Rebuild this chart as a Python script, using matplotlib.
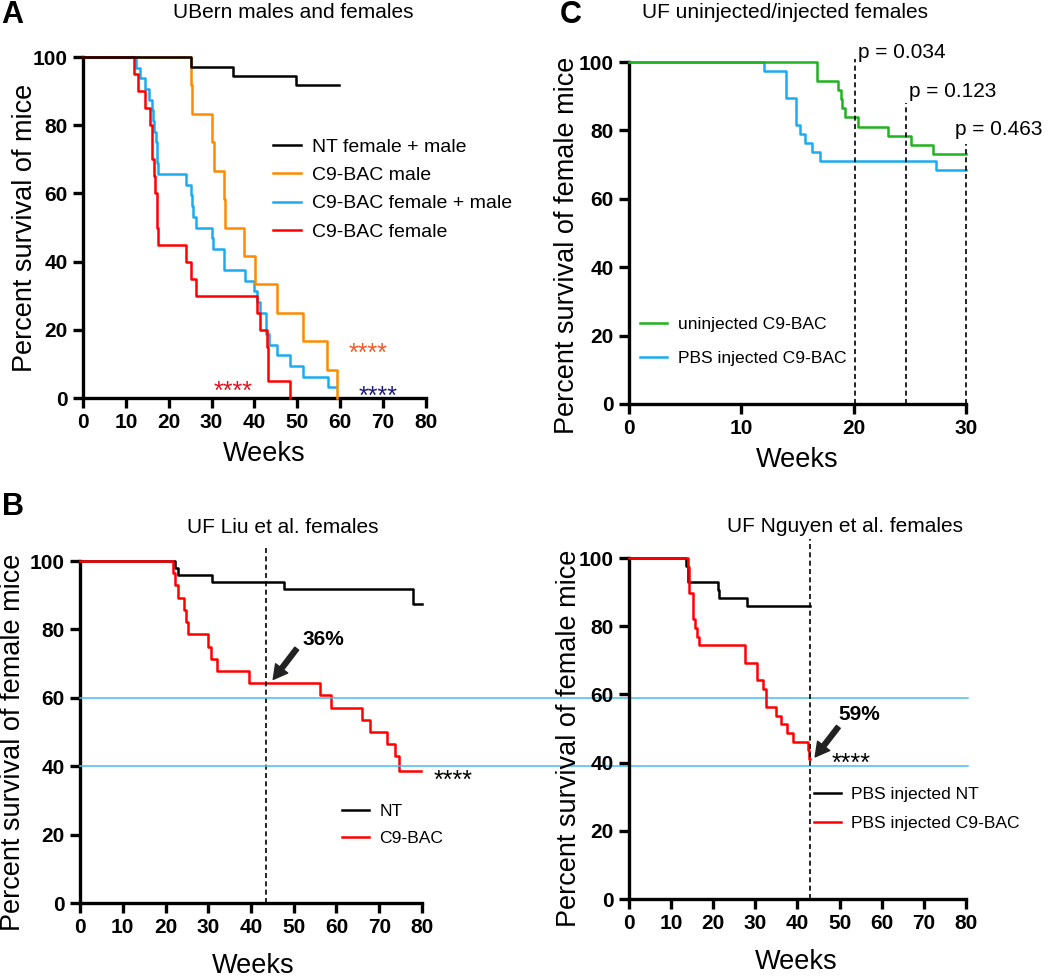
import matplotlib
matplotlib.use('Agg')
import matplotlib.pyplot as plt

plt.rcParams['font.family'] = ['Liberation Sans', 'DejaVu Sans']

# ---- panel A: UBern males and females ----
nt_a_t = [0, 25.1, 35.0, 49.8, 59.8]
nt_a_s = [100, 97.2, 94.4, 91.7, 91.7]
male_t = [0, 25.1, 25.4, 30.2, 30.5, 32.9, 33.2, 37.6, 40.1, 45.2, 51.4, 56.8, 59.3]
male_s = [100, 91.7, 83.3, 75.0, 66.7, 58.3, 50.0, 41.7, 33.3, 25.0, 16.7, 8.3, 0]
both_t = [0, 12.4, 13.4, 14.5, 15.5, 16.0, 16.3, 16.5, 17.0, 17.2, 17.3, 17.4, 24.0, 25.1,
          25.4, 25.6, 26.4, 30.2, 30.3, 32.9, 33.0, 37.8, 39.9, 40.7, 41.3, 42.6, 42.8,
          43.5, 45.2, 48.3, 51.4, 57.1, 59.0]
both_s = [100, 96.9, 93.8, 90.6, 87.5, 84.4, 81.3, 78.1, 75.0, 71.9, 68.8, 65.6, 62.5, 59.4,
          56.3, 53.1, 50.0, 46.9, 43.8, 40.6, 37.5, 34.4, 31.3, 28.1, 25.0, 21.9, 18.8,
          15.6, 12.5, 9.4, 6.3, 3.1, 3.1]
fem_t = [0, 11.9, 12.9, 14.5, 15.6, 16.0, 16.2, 16.5, 16.8, 17.2, 17.3, 17.4, 24.0, 25.3,
         26.4, 40.5, 41.3, 43.0, 43.1, 43.2, 48.3]
fem_s = [100, 95, 90, 85, 80, 75, 70, 65, 60, 55, 50, 45, 40, 35, 30, 25, 20, 15, 10, 5, 0]

# ---- panel C: UF uninjected / injected females ----
unin_t = [0, 16.7, 18.65, 18.9, 18.95, 19.25, 20.4, 23.1, 25.1, 27.1, 30]
unin_s = [100, 94.6, 91.9, 89.2, 86.5, 83.8, 81.1, 78.4, 75.7, 73.0, 73.0]
pbs_t = [0, 12.0, 14.0, 14.9, 15.2, 15.7, 16.3, 17.0, 27.3, 30]
pbs_s = [100, 97.4, 89.5, 81.6, 78.9, 76.3, 73.7, 71.1, 68.4, 68.4]
p_weeks = [20.1, 24.7, 30.0]
p_tops = [101, 88, 76]
p_labels = ['p = 0.034', 'p = 0.123', 'p = 0.463']
p_text_x = [20.4, 24.9, 29.0]
p_text_y = [102.8, 91.5, 80.3]

# ---- panel B left: UF Liu et al. ----
liu_nt_t = [0, 22.2, 23.0, 23.8, 30.8, 47.8, 78.0, 79.9]
liu_nt_s = [100, 97.9, 95.8, 95.8, 93.75, 91.7, 87.5, 87.5]
liu_c9_t = [0, 21.7, 22.2, 23.0, 24.3, 24.8, 25.3, 30.0, 30.6, 32.0, 39.6, 56.1, 58.7, 65.9,
            67.8, 71.9, 73.7, 74.7, 79.7]
liu_c9_s = [100, 96.4, 92.9, 89.3, 85.7, 82.1, 78.6, 75.0, 71.4, 67.9, 64.3, 60.7, 57.1, 53.6,
            50.0, 46.4, 42.9, 38.6, 38.6]
liu_cut = 43.6

# ---- panel B right: UF Nguyen et al. ----
ng_nt_t = [0, 13.5, 14.0, 14.1, 21.2, 21.3, 28.0, 42.9]
ng_nt_s = [100, 97.7, 95.3, 93.0, 90.7, 88.4, 86.0, 86.0]
ng_c9_t = [0, 14.1, 14.2, 14.3, 15.2, 15.3, 15.7, 16.1, 16.6, 27.5, 30.4, 31.9, 32.5, 35.0,
           36.1, 37.5, 39.0, 42.5, 42.7, 42.9]
ng_c9_s = [100, 97.4, 92.3, 89.7, 84.6, 82.1, 79.5, 76.9, 74.4, 69.2, 64.1, 61.5, 56.4, 53.8,
           51.3, 48.7, 46.2, 43.6, 41.0, 41.0]
ng_cut = 42.9

ref_levels = [60, 40]

BLACK = 'black'
ORANGE = '#ff8a00'
BLUE = '#1aabf0'
RED = '#ff0000'
GREEN = '#1fb31f'

fig = plt.figure(figsize=(10.5, 9.77), dpi=100)
axA = fig.add_axes([0.0790, 0.5926, 0.3267, 0.3490])
axC = fig.add_axes([0.5990, 0.5865, 0.3210, 0.3500])
axB1 = fig.add_axes([0.0762, 0.0757, 0.3257, 0.3500])
axB2 = fig.add_axes([0.5990, 0.0798, 0.3210, 0.3490])
axB2.set_facecolor('none')


def style(ax, xmax, xstep, ylabel, ylab_pos, xlab_pos):
    ax.set_xlim(0, xmax)
    ax.set_ylim(0, 100)
    ax.set_xticks(range(0, xmax + 1, xstep))
    ax.set_yticks(range(0, 101, 20))
    for s in ['top', 'right']:
        ax.spines[s].set_visible(False)
    for s in ['left', 'bottom']:
        ax.spines[s].set_linewidth(2.4)
    ax.tick_params(direction='out', length=7, width=2.4, labelsize=15, pad=4)
    for lab in ax.get_xticklabels() + ax.get_yticklabels():
        lab.set_fontweight('bold')
    ax.set_ylabel(ylabel, fontsize=19.5)
    ax.yaxis.set_label_coords(*ylab_pos)
    ax.set_xlabel('Weeks', fontsize=19.5)
    ax.xaxis.set_label_coords(*xlab_pos)


def curve(ax, t, s, color, label=None, lw=1.8, z=2):
    ax.step(t, s, where='post', color=color, lw=lw, label=label, clip_on=False, zorder=z)


# panel A
curve(axA, both_t, both_s, BLUE, 'C9-BAC female + male', z=2)
curve(axA, male_t, male_s, ORANGE, 'C9-BAC male', z=3)
curve(axA, fem_t, fem_s, RED, 'C9-BAC female', z=4)
curve(axA, nt_a_t, nt_a_s, BLACK, 'NT female + male', z=5)
h, l = axA.get_legend_handles_labels()
order = [3, 1, 0, 2]
axA.legend([h[i] for i in order], [l[i] for i in order], frameon=False, loc='upper left',
           bbox_to_anchor=(0.555, 0.762), fontsize=14, handlelength=1.4, handletextpad=0.6,
           labelspacing=0.55, borderpad=0, borderaxespad=0)
axA.text(61.9, 11.0, '****', color='#f15a24', fontsize=18, va='baseline')
axA.text(30.4, -0.2, '****', color='#e8101a', fontsize=18, va='baseline')
axA.text(64.3, -1.6, '****', color='#1c1c80', fontsize=18, va='baseline', clip_on=False)
style(axA, 80, 10, 'Percent survival of mice', (-0.131, 0.5), (0.528, -0.125))

# panel C
curve(axC, pbs_t, pbs_s, BLUE, 'PBS injected C9-BAC', z=2)
curve(axC, unin_t, unin_s, GREEN, 'uninjected C9-BAC', z=3)
for x, top, tx, ty, lab in zip(p_weeks, p_tops, p_text_x, p_text_y, p_labels):
    axC.plot([x, x], [0, top], color='black', lw=1.2, ls=(0, (3, 2)), clip_on=False, zorder=4)
    axC.text(tx, ty, lab, fontsize=15, va='center', ha='left', clip_on=False)
h, l = axC.get_legend_handles_labels()
axC.legend(h[::-1], l[::-1], frameon=False, loc='upper left', bbox_to_anchor=(0.033, 0.255),
           fontsize=12.6, handlelength=1.55, handletextpad=0.6, labelspacing=1.08,
           borderpad=0, borderaxespad=0)
style(axC, 30, 10, 'Percent survival of female mice', (-0.146, 0.465), (0.5, -0.126))

# panel B left
curve(axB1, liu_nt_t, liu_nt_s, BLACK, 'NT', z=2)
curve(axB1, liu_c9_t, liu_c9_s, RED, 'C9-BAC', z=3)
axB1.plot([liu_cut, liu_cut], [0, 104.5], color='black', lw=1.2, ls=(0, (3, 2)),
          clip_on=False, zorder=4)
axB1.annotate('', xy=(45.2, 65.4), xytext=(50.7, 74.4),
              arrowprops=dict(facecolor='#222222', edgecolor='#222222', width=3.5,
                              headwidth=11, headlength=10, shrink=0))
axB1.text(56.9, 77.0, '36%', fontsize=15, fontweight='bold', ha='center', va='center')
axB1.text(82.6, 33.6, '****', fontsize=18, va='baseline', clip_on=False)
axB1.legend(frameon=False, loc='upper left', bbox_to_anchor=(0.765, 0.29), fontsize=12.6,
            handlelength=1.55, handletextpad=0.6, labelspacing=0.65, borderpad=0,
            borderaxespad=0)
for lev in ref_levels:
    axB1.axhline(lev, xmin=0, xmax=2.597, color='#45bdf0', lw=1.1, clip_on=False, zorder=6)
style(axB1, 80, 10, 'Percent survival of female mice', (-0.158, 0.47), (0.506, -0.146))

# panel B right
curve(axB2, ng_nt_t, ng_nt_s, BLACK, 'PBS injected NT', z=2)
curve(axB2, ng_c9_t, ng_c9_s, RED, 'PBS injected C9-BAC', z=3)
axB2.plot([ng_cut, ng_cut], [0, 105.5], color='black', lw=1.2, ls=(0, (3, 2)),
          clip_on=False, zorder=4)
axB2.annotate('', xy=(44.2, 41.7), xytext=(49.7, 50.5),
              arrowprops=dict(facecolor='#222222', edgecolor='#222222', width=3.5,
                              headwidth=11, headlength=10, shrink=0))
axB2.text(54.7, 54.1, '59%', fontsize=15, fontweight='bold', ha='center', va='center')
axB2.text(48.2, 37.6, '****', fontsize=18, va='baseline')
axB2.legend(frameon=False, loc='upper left', bbox_to_anchor=(0.548, 0.33), fontsize=12.6,
            handlelength=1.55, handletextpad=0.6, labelspacing=0.82, borderpad=0,
            borderaxespad=0)
style(axB2, 80, 10, 'Percent survival of female mice', (-0.139, 0.47), (0.495, -0.146))

# titles and panel letters
fig.text(0.279, 0.987, 'UBern males and females', fontsize=15, ha='center', va='center')
fig.text(0.748, 0.987, 'UF uninjected/injected females', fontsize=15, ha='center', va='center')
fig.text(0.2695, 0.4596, 'UF Liu et al. females', fontsize=15, ha='center', va='center')
fig.text(0.805, 0.4606, 'UF Nguyen et al. females', fontsize=15, ha='center', va='center')
fig.text(0.0114, 0.985, 'A', fontsize=22, fontweight='bold', ha='center', va='center')
fig.text(0.0124, 0.481, 'B', fontsize=22, fontweight='bold', ha='center', va='center')
fig.text(0.544, 0.985, 'C', fontsize=22, fontweight='bold', ha='center', va='center')

fig.savefig('out.png', dpi=100)
